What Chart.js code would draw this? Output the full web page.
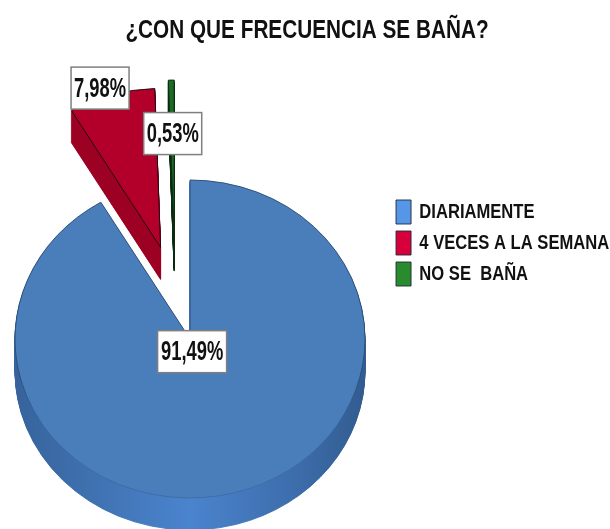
<!DOCTYPE html>
<html><head><meta charset="utf-8">
<style>html,body{margin:0;padding:0;background:#fff;overflow:hidden}#w{width:610px;height:529px;position:relative}</style>
<script src="https://cdn.jsdelivr.net/npm/chart.js@4/dist/chart.umd.min.js"></script>
</head><body><div id="w"><canvas id="c" width="610" height="529"></canvas></div>
<script>
const titleText = '¿CON QUE FRECUENCIA SE BAÑA?';
const categories = ['DIARIAMENTE', '4 VECES A LA SEMANA', 'NO SE  BAÑA'];
const values = [91.49, 7.98, 0.53];
const valueLabels = ['91,49%', '7,98%', '0,53%'];
const faceColors = ['#4a7ebb', '#b2002b', '#1d6b27'];
const legendColors = ['#5596e6', '#d8003a', '#2a8a2e'];
const edgeColors = ['#2c4d78', '#1a0a10', '#0c2a10'];
const explode = [0, 105, 110];
const sliceNudgeX = [0, 0, -14];
const labelShift = [[-21, -64], [-36, -83], [0, -26]];
const labelBoxW = [69, 58, 58];
const squash = 159 / 175, depth = 32, centerY = 339;
const titleStretch = 0.83, legendStretch = 0.79;

function withColors(arc, fill, stroke, fn) {
  const orig = arc.options;
  arc.options = Object.create(orig, {
    backgroundColor: {value: fill}, borderColor: {value: stroke}
  });
  fn();
  arc.options = orig;
}
function condense(box, ctx, fromX, toX, sx) {
  if (box._condensed) return;
  const draw = box.draw.bind(box);
  box._condensed = true;
  box.draw = (area) => {
    ctx.save();
    ctx.translate(toX, 0); ctx.scale(sx, 1); ctx.translate(-fromX, 0);
    draw(area);
    ctx.restore();
  };
}
const tilted = {
  id: 'tilted',
  afterLayout(chart) {
    const l = chart.legend;
    l.left = 390; l.right = 800; l.top = 193; l.bottom = 400;
    const t = chart.titleBlock;
    t.left = -310; t.right = 690; t.width = 1000;
    condense(l, chart.ctx, 390, 390.5, legendStretch);
    condense(t, chart.ctx, 190, 307, titleStretch);
  },
  beforeDatasetDraw() { return false; },
  afterDatasetsDraw(chart) {
    const ctx = chart.ctx, arcs = chart.getDatasetMeta(0).data;
    const mid = (arc) => (arc.startAngle + arc.endAngle) / 2;
    const place = (i, dy) => {
      const a = mid(arcs[i]);
      ctx.translate(sliceNudgeX[i] + Math.cos(a) * explode[i], dy + centerY + Math.sin(a) * explode[i] * squash);
      ctx.scale(1, squash);
      ctx.translate(0, -arcs[i].y);
    };
    const blueSide = ctx.createLinearGradient(15, 0, 365, 0);
    blueSide.addColorStop(0, '#36639c');
    blueSide.addColorStop(0.2, '#3f70ae');
    blueSide.addColorStop(0.5, '#4a84ce');
    blueSide.addColorStop(0.8, '#3d6dab');
    blueSide.addColorStop(1, '#325c90');
    const sideColors = [blueSide, '#9c0024', '#0a2c10'];
    arcs.forEach((arc, i) => {
      for (let d = depth; d > 0; d--) {
        ctx.save(); place(i, d);
        withColors(arc, sideColors[i], sideColors[i], () => arc.draw(ctx));
        ctx.restore();
      }
    });
    const edge = ctx.createLinearGradient(0, 330, 0, 500);
    edge.addColorStop(0, edgeColors[0]);
    edge.addColorStop(0.35, '#3b68a2');
    edge.addColorStop(1, '#3f6ea8');
    arcs.forEach((arc, i) => {
      ctx.save(); place(i, 0);
      withColors(arc, faceColors[i], i === 0 ? edge : edgeColors[i], () => arc.draw(ctx));
      ctx.restore();
    });
    arcs.forEach((arc, i) => {
      const a = mid(arc);
      const reach = arc.outerRadius / 2 + explode[i];
      const cx = arc.x + Math.cos(a) * reach + sliceNudgeX[i] + labelShift[i][0];
      const cy = centerY + Math.sin(a) * reach * squash + labelShift[i][1];
      const w = labelBoxW[i], h = 42;
      ctx.save();
      ctx.fillStyle = '#fff'; ctx.strokeStyle = '#7f7f7f'; ctx.lineWidth = 1.5;
      ctx.fillRect(cx - w / 2, cy - h / 2, w, h);
      ctx.strokeRect(cx - w / 2, cy - h / 2, w, h);
      ctx.translate(cx, cy + 1);
      ctx.scale(0.68, 1);
      ctx.fillStyle = '#111';
      ctx.font = 'bold 27px "Liberation Sans"';
      ctx.textAlign = 'center'; ctx.textBaseline = 'middle';
      ctx.fillText(valueLabels[i], 0, 0);
      ctx.restore();
    });
  }
};
new Chart(document.getElementById('c'), {
  type: 'pie',
  data: {
    labels: categories,
    datasets: [{
      data: values,
      backgroundColor: legendColors,
      borderColor: '#1c2a3a',
      borderWidth: 1
    }]
  },
  plugins: [tilted],
  options: {
    responsive: false,
    animation: false,
    rotation: 0,
    radius: 175,
    layout: {padding: {left: 0, right: 230, top: 0, bottom: 0}},
    plugins: {
      tooltip: {enabled: false},
      title: {
        display: true, text: titleText, color: '#111',
        font: {family: '"Liberation Sans"', weight: 'bold', size: 25},
        padding: {top: 16, bottom: 7}
      },
      legend: {
        position: 'chartArea', align: 'start',
        labels: {
          color: '#111', boxWidth: 19, boxHeight: 24, padding: 7,
          font: {family: '"Liberation Sans"', weight: 'bold', size: 21}
        }
      }
    }
  }
});
</script></body></html>
